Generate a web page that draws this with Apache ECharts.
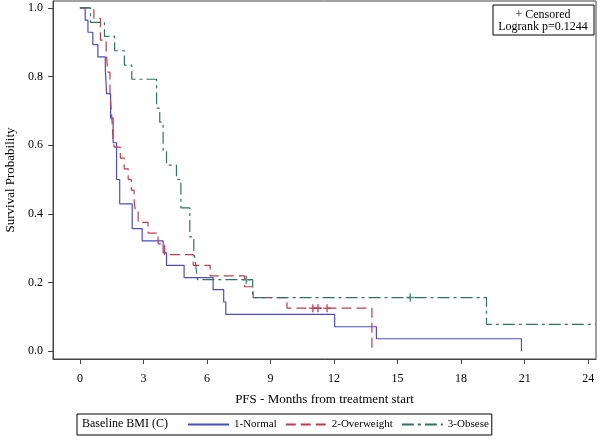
<!DOCTYPE html>
<html><head><meta charset="utf-8">
<script src="https://cdn.jsdelivr.net/npm/echarts@6/dist/echarts.min.js"></script>
<style>html,body{margin:0;padding:0;background:#fff}#c{width:598px;height:441px}</style>
</head><body><div id="c"></div>
<script>
// ---- data ----
const xTicks = [0, 3, 6, 9, 12, 15, 18, 21, 24];
const yTicks = [0, 0.2, 0.4, 0.6, 0.8, 1.0];
const groupNames = ['1-Normal', '2-Overweight', '3-Obsese'];

const normalTimes = [0, 0.25, 0.38, 0.61, 0.85, 1.2, 1.26, 1.45, 1.57, 1.73, 1.88, 2.47, 2.94, 3.93, 4.09, 4.92, 6.29, 6.79, 6.89, 12.03, 14.0, 20.85];
const normalSurv  = [1, 0.964, 0.929, 0.893, 0.857, 0.821, 0.75, 0.679, 0.607, 0.5, 0.429, 0.357, 0.321, 0.286, 0.25, 0.214, 0.179, 0.143, 0.107, 0.071, 0.036, 0];

const overTimes = [0, 0.66, 0.97, 1.24, 1.32, 1.42, 1.5, 1.56, 1.62, 1.91, 2.09, 2.28, 2.43, 2.56, 2.62, 2.75, 3.22, 3.69, 4.0, 5.35, 6.15, 7.78, 8.18, 9.78, 13.79];
const overSurv  = [1, 0.969, 0.906, 0.875, 0.8125, 0.75, 0.6875, 0.625, 0.594, 0.5625, 0.531, 0.5, 0.469, 0.4375, 0.406, 0.375, 0.344, 0.3125, 0.281, 0.25, 0.219, 0.1875, 0.156, 0.125, 0];
const overCensorTimes = [11.0, 11.24, 11.67];
const overCensorSurv  = [0.125, 0.125, 0.125];

const obeseTimes = [0, 0.5, 1.16, 1.64, 2.1, 2.45, 3.62, 3.77, 3.93, 4.09, 4.56, 4.77, 5.19, 5.38, 5.47, 5.55, 8.16, 19.2, 24.37];
const obeseSurv  = [1, 0.958, 0.917, 0.875, 0.833, 0.792, 0.708, 0.667, 0.583, 0.542, 0.5, 0.417, 0.333, 0.292, 0.25, 0.208, 0.156, 0.078, 0.078];
const obeseCensorTimes = [7.86, 15.6];
const obeseCensorSurv  = [0.208, 0.156];

// ---- chart ----
const serif = '"Liberation Serif", "Times New Roman", serif';
const colors = ['#4B4BC6', '#C23A4E', '#2F7462'];
const plusPath = 'path://M4,0 L6,0 L6,4 L10,4 L10,6 L6,6 L6,10 L4,10 L4,6 L0,6 L0,4 L4,4 Z';
function pts(t, s) { return t.map((v, i) => [v, s[i]]); }

const chart = echarts.init(document.getElementById('c'), null, { renderer: 'canvas' });
const option = {
  animation: false,
  grid: { left: 53, top: 1, right: 2, bottom: 82, outerBoundsMode: 'none', containLabel: false,
    show: true, borderColor: '#444', borderWidth: 1 },
  xAxis: {
    type: 'value', min: -1.27, max: 24.37,
    name: 'PFS - Months from treatment start', nameLocation: 'middle', nameGap: 34,
    nameTextStyle: { fontFamily: serif, fontSize: 13, color: '#000' },
    axisLine: { show: true, onZero: false, lineStyle: { color: '#444' } },
    axisTick: { show: true, customValues: xTicks, length: 5, lineStyle: { color: '#444' } },
    axisLabel: { customValues: xTicks, margin: 14, fontFamily: serif, fontSize: 12, color: '#000' },
    splitLine: { show: false }
  },
  yAxis: {
    type: 'value', min: -0.023, max: 1.02,
    name: 'Survival Probability', nameLocation: 'middle', nameGap: 35,
    nameTextStyle: { fontFamily: serif, fontSize: 13, color: '#000' },
    axisLine: { show: true, onZero: false, lineStyle: { color: '#444' } },
    axisTick: { show: true, customValues: yTicks, length: 5, lineStyle: { color: '#444' } },
    axisLabel: { customValues: yTicks, margin: 10, fontFamily: serif, fontSize: 12, color: '#000',
      formatter: v => Number(v).toFixed(1) },
    splitLine: { show: false }
  },
  legend: {
    data: groupNames, left: 77, top: 414, orient: 'horizontal', selectedMode: false,
    itemWidth: 41, itemHeight: 10, itemGap: 8, padding: [5, 3, 5, 110],
    borderColor: '#000', borderWidth: 1,
    itemStyle: { opacity: 0 },
    textStyle: { fontFamily: serif, fontSize: 11, color: '#000' }
  },
  graphic: [
    { type: 'text', left: 82, top: 418, style: { text: 'Baseline BMI (C)', font: '12px "Liberation Serif"', fill: '#000' } },
    { type: 'rect', shape: { x: 493, y: 5, width: 101, height: 30 }, style: { fill: '#fff', stroke: '#000', lineWidth: 1 } },
    { type: 'text', x: 543, y: 15, style: { text: '+ Censored', font: '12px "Liberation Serif"', fill: '#000', align: 'center', verticalAlign: 'middle' } },
    { type: 'text', x: 543, y: 27, style: { text: 'Logrank p=0.1244', font: '12px "Liberation Serif"', fill: '#000', align: 'center', verticalAlign: 'middle' } }
  ],
  series: [
    { type: 'line', name: groupNames[0], data: pts(normalTimes, normalSurv), step: 'end', symbol: 'none',
      color: colors[0], lineStyle: { color: colors[0], width: 1.2, type: 'solid' }, silent: true },
    { type: 'line', name: groupNames[1], data: pts(overTimes, overSurv), step: 'end', symbol: 'none',
      color: colors[1], lineStyle: { color: colors[1], width: 1.2, type: [10, 5] }, silent: true },
    { type: 'line', name: groupNames[2], data: pts(obeseTimes, obeseSurv), step: 'end', symbol: 'none',
      color: colors[2], lineStyle: { color: colors[2], width: 1.2, type: [12, 4, 3, 4] }, silent: true },
    { type: 'scatter', name: 'c2', data: pts(overCensorTimes, overCensorSurv), symbol: plusPath, symbolSize: 8,
      itemStyle: { color: colors[1] }, silent: true },
    { type: 'scatter', name: 'c3', data: pts(obeseCensorTimes, obeseCensorSurv), symbol: plusPath, symbolSize: 8,
      itemStyle: { color: colors[2] }, silent: true }
  ]
};
chart.setOption(option);
</script>
</body></html>
